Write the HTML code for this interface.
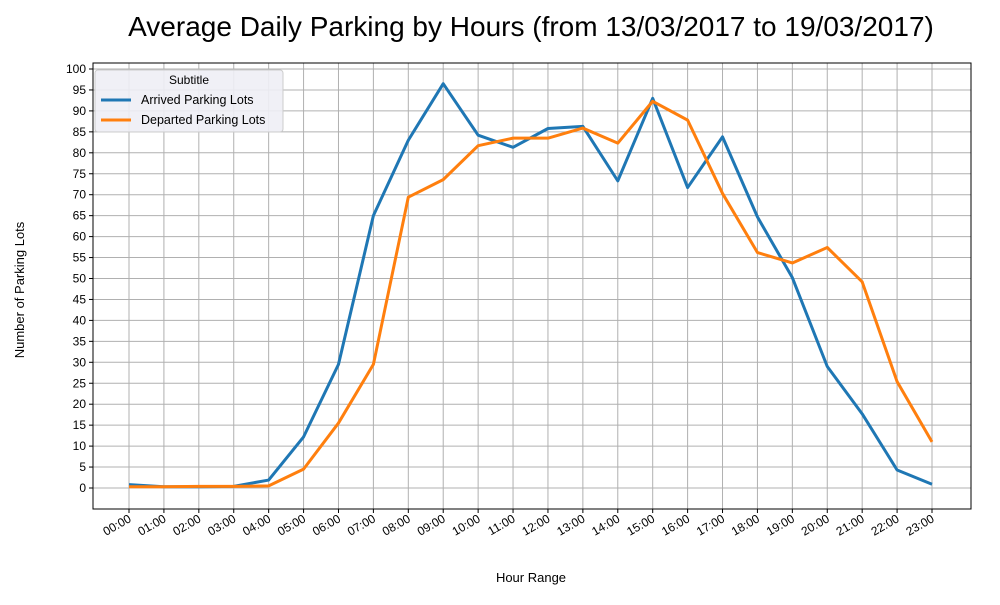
<!DOCTYPE html>
<html><head><meta charset="utf-8">
<style>
body{margin:0;background:#fff;font-family:"Liberation Sans",Arial,sans-serif;}
svg text{font-family:"Liberation Sans",Arial,sans-serif;}
</style></head>
<body>
<svg id="chart" width="1000" height="600" xmlns="http://www.w3.org/2000/svg">
<rect width="1000" height="600" fill="#fff"/>
<text x="531" y="36" font-size="28" text-anchor="middle" fill="#000">Average Daily Parking by Hours (from 13/03/2017 to 19/03/2017)</text>
<g id="grid"></g>
<g id="series"></g>
<rect x="93" y="63" width="878" height="446" fill="none" stroke="#000" stroke-width="1"/>
<g id="ticks"></g>
<text x="531" y="582" font-size="13" text-anchor="middle">Hour Range</text>
<text transform="translate(24,290) rotate(-90)" font-size="13" text-anchor="middle">Number of Parking Lots</text>
<g>
<rect x="95" y="70" width="188" height="62" rx="3" fill="#eeeef5" fill-opacity="0.9" stroke="#ccc"/>
<text x="189" y="84" font-size="12" text-anchor="middle">Subtitle</text>
<line x1="101" y1="100" x2="131" y2="100" stroke="#1f77b4" stroke-width="3"/>
<text x="141" y="104" font-size="12.5">Arrived Parking Lots</text>
<line x1="101" y1="120" x2="131" y2="120" stroke="#ff7f0e" stroke-width="3"/>
<text x="141" y="124" font-size="12.5">Departed Parking Lots</text>
</g>
</svg>
<script>
const hours=["00:00","01:00","02:00","03:00","04:00","05:00","06:00","07:00","08:00","09:00","10:00","11:00","12:00","13:00","14:00","15:00","16:00","17:00","18:00","19:00","20:00","21:00","22:00","23:00"];
const arrived=[0.8,0.3,0.3,0.4,1.9,12.2,29.5,65,83,96.5,84.2,81.3,85.8,86.3,73.3,93,71.7,83.8,64.7,50.2,29,17.7,4.3,0.9];
const departed=[0.3,0.3,0.4,0.4,0.5,4.5,15.5,29.5,69.4,73.6,81.7,83.5,83.5,85.9,82.3,92.3,87.8,70.3,56.2,53.7,57.4,49.2,25.4,11];
const yTicks=[0,5,10,15,20,25,30,35,40,45,50,55,60,65,70,75,80,85,90,95,100];
const NS="http://www.w3.org/2000/svg";
const x=i=>129+i*(932-129)/23;
const y=v=>488-v*(488-69)/100;
const grid=document.getElementById('grid'),ticks=document.getElementById('ticks'),ser=document.getElementById('series');
function mk(tag,attrs,parent){const e=document.createElementNS(NS,tag);for(const k in attrs)e.setAttribute(k,attrs[k]);parent.appendChild(e);return e;}
yTicks.forEach(v=>{
 const g=mk('line',{x1:93,x2:971,y1:y(v),y2:y(v),stroke:'#b0b0b0','stroke-width':1},grid);
 
 
 mk('line',{x1:89,x2:93,y1:y(v),y2:y(v),stroke:'#000'},ticks);
 const t=mk('text',{x:86,y:y(v)+4,'font-size':12,'text-anchor':'end'},ticks);
 t.textContent=v;
 
 
});
hours.forEach((h,i)=>{
 const g=mk('line',{x1:x(i),x2:x(i),y1:63,y2:509,stroke:'#b0b0b0','stroke-width':1},grid);
 
 
 mk('line',{x1:x(i),x2:x(i),y1:509,y2:513,stroke:'#000'},ticks);
 const t=mk('text',{transform:`translate(${x(i)+3},${521}) rotate(-30)`,'font-size':12,'text-anchor':'end'},ticks);
 t.textContent=h;
 
 
});
function line(data,color,name){
 const p=mk('polyline',{points:data.map((v,i)=>x(i)+','+y(v)).join(' '),fill:'none',stroke:color,'stroke-width':3,'stroke-linejoin':'round'},ser);
 
 
}
line(arrived,'#1f77b4','arrived-line');
line(departed,'#ff7f0e','departed-line');
</script>
</body></html>
